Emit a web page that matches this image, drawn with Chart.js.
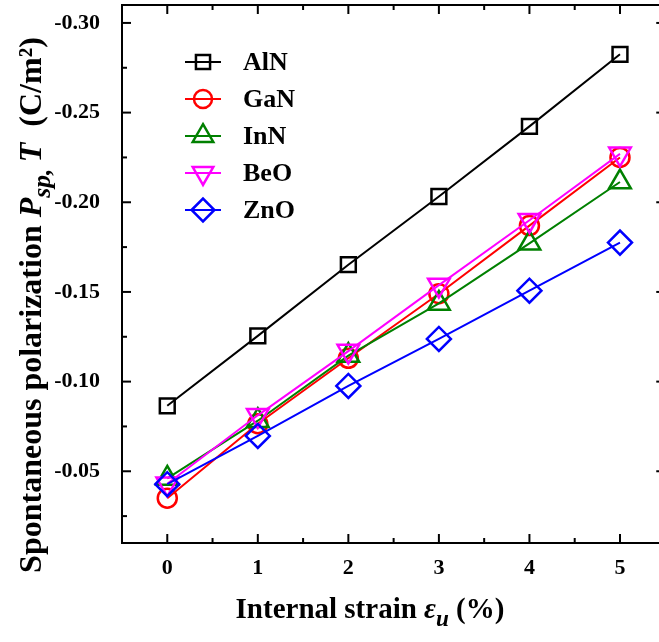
<!DOCTYPE html>
<html>
<head>
<meta charset="utf-8">
<script src="https://cdn.jsdelivr.net/npm/chart.js@4/dist/chart.umd.min.js"></script>
<style>
html, body { margin: 0; padding: 0; background: #fff; overflow: hidden; }
canvas { display: block; }
</style>
</head>
<body>
<canvas id="chart" width="659" height="642"></canvas>
<script>
// data
const strain = [0, 1, 2, 3, 4, 5];
const alnVals = [-0.0865, -0.1255, -0.1652, -0.2032, -0.2423, -0.2825];
const ganVals = [-0.0350, -0.0765, -0.1130, -0.1490, -0.1870, -0.2250];
const innVals = [-0.0460, -0.0782, -0.1145, -0.1436, -0.1771, -0.2113];
const beoVals = [-0.0430, -0.0812, -0.1170, -0.1538, -0.1900, -0.2270];
const znoVals = [-0.0428, -0.0697, -0.0976, -0.1238, -0.1507, -0.1775];
const names = ['AlN', 'GaN', 'InN', 'BeO', 'ZnO'];

const xTicks = [0, 1, 2, 3, 4, 5];
const xMinor = [0.5, 1.5, 2.5, 3.5, 4.5];
const yTicks = [-0.30, -0.25, -0.20, -0.15, -0.10, -0.05];
const yMinor = [-0.275, -0.225, -0.175, -0.125, -0.075, -0.025];

const colors = ['#000000', '#ff0000', '#008000', '#ff00ff', '#0000ff'];
const styles = ['rect', 'circle', 'triangle', 'triangle', 'rectRot'];
const rotations = [0, 0, 0, 180, 0];
const radii = [10.5, 9.5, 12.5, 12.5, 12];

const FAMILY = '"Liberation Serif", "Times New Roman", serif';
const allVals = [alnVals, ganVals, innVals, beoVals, znoVals];

const datasets = names.map((n, i) => ({
    label: n,
    data: strain.map((x, k) => ({x: x, y: allVals[i][k]})),
    borderColor: colors[i],
    backgroundColor: 'rgba(0,0,0,0)',
    borderWidth: 2,
    pointStyle: styles[i],
    pointRotation: rotations[i],
    pointRadius: radii[i],
    pointBorderWidth: 2.5,
    pointBorderColor: colors[i],
    pointBackgroundColor: 'rgba(0,0,0,0)',
    order: 5 - i,
    clip: false
}));

// draw a line of text made of styled pieces
function setFont(ctx, p, size) {
    ctx.font = (p.italic ? 'italic ' : '') + 'bold ' + (p.sub ? size * 0.8 : size) + 'px ' + FAMILY;
}
function drawRich(ctx, parts, x, y, size) {
    let w = 0;
    parts.forEach(p => { setFont(ctx, p, size); w += ctx.measureText(p.t).width; });
    let cx = x - w / 2;
    ctx.textBaseline = 'alphabetic';
    ctx.textAlign = 'left';
    parts.forEach(p => {
        setFont(ctx, p, size);
        ctx.fillText(p.t, cx, y + (p.sub ? size * 0.28 : 0));
        cx += ctx.measureText(p.t).width;
    });
}

const decor = {
    id: 'decor',
    afterDraw(chart) {
        const {ctx, chartArea: a, scales: {x, y}} = chart;
        const xr = x.getPixelForValue(5.5); // right frame edge, outside the picture
        ctx.save();
        ctx.strokeStyle = '#000';
        ctx.lineWidth = 2;
        ctx.strokeRect(a.left, a.top, xr - a.left, a.bottom - a.top);
        const seg = (x1, y1, x2, y2) => { ctx.beginPath(); ctx.moveTo(x1, y1); ctx.lineTo(x2, y2); ctx.stroke(); };
        xTicks.forEach(v => { const p = x.getPixelForValue(v); seg(p, a.bottom, p, a.bottom - 9); seg(p, a.top, p, a.top + 9); });
        xMinor.forEach(v => { const p = x.getPixelForValue(v); seg(p, a.bottom, p, a.bottom - 5); seg(p, a.top, p, a.top + 5); });
        yTicks.forEach(v => { const p = y.getPixelForValue(v); seg(a.left, p, a.left + 9, p); seg(xr, p, xr - 9, p); });
        yMinor.forEach(v => { const p = y.getPixelForValue(v); seg(a.left, p, a.left + 5, p); seg(xr, p, xr - 5, p); });

        // legend
        names.forEach((n, i) => {
            const ly = 62 + i * 37;
            ctx.strokeStyle = colors[i];
            ctx.lineWidth = 2;
            seg(185, ly, 221, ly);
            ctx.lineWidth = 2.5;
            ctx.fillStyle = 'rgba(0,0,0,0)';
            Chart.helpers.drawPoint(ctx, {pointStyle: styles[i], rotation: rotations[i], radius: radii[i] * 0.95, borderWidth: 2.5}, 203, ly);
            ctx.fillStyle = '#000';
            ctx.font = 'bold 26px ' + FAMILY;
            ctx.textAlign = 'left';
            ctx.textBaseline = 'middle';
            ctx.fillText(n, 243, ly + 1);
        });

        // axis titles
        ctx.fillStyle = '#000';
        drawRich(ctx, [{t: 'Internal strain '}, {t: '\u03b5', italic: true}, {t: 'u', italic: true, sub: true}, {t: ' (%)'}], 370, 618, 29);
        ctx.translate(41, 305);
        ctx.rotate(-Math.PI / 2);
        drawRich(ctx, [{t: 'Spontaneous polarization '}, {t: 'P', italic: true}, {t: 'sp, ', italic: true, sub: true}, {t: 'T', italic: true}, {t: '  (C/m\u00b2)'}], 0, 0, 32);
        ctx.restore();
    }
};

const noPad = s => { s.paddingTop = 0; s.paddingBottom = 0; s.paddingLeft = 0; s.paddingRight = 0; };

new Chart(document.getElementById('chart'), {
    type: 'line',
    data: {datasets: datasets},
    options: {
        responsive: false,
        animation: false,
        layout: {autoPadding: false, padding: {top: 5, right: 0, left: 0, bottom: 0}},
        plugins: {legend: {display: false}, tooltip: {enabled: false}},
        scales: {
            x: {
                // the frame runs to 5.5, the picture is cut at its right edge
                type: 'linear', min: -0.5, max: 5.431,
                afterBuildTicks: s => { s.ticks = xTicks.map(v => ({value: v})); },
                afterFit: s => { s.height = 99; noPad(s); },
                grid: {display: false, drawTicks: false},
                border: {display: false},
                ticks: {color: '#000', padding: 12, font: {family: FAMILY, size: 22, weight: 'bold'}, callback: v => String(v)}
            },
            y: {
                type: 'linear', reverse: true, min: -0.31, max: -0.01,
                afterBuildTicks: s => { s.ticks = yTicks.map(v => ({value: v})); },
                afterFit: s => { s.width = 122; noPad(s); },
                grid: {display: false, drawTicks: false},
                border: {display: false},
                ticks: {color: '#000', padding: 22, font: {family: FAMILY, size: 22, weight: 'bold'}, callback: v => v.toFixed(2)}
            }
        }
    },
    plugins: [decor]
});
</script>
</body>
</html>
